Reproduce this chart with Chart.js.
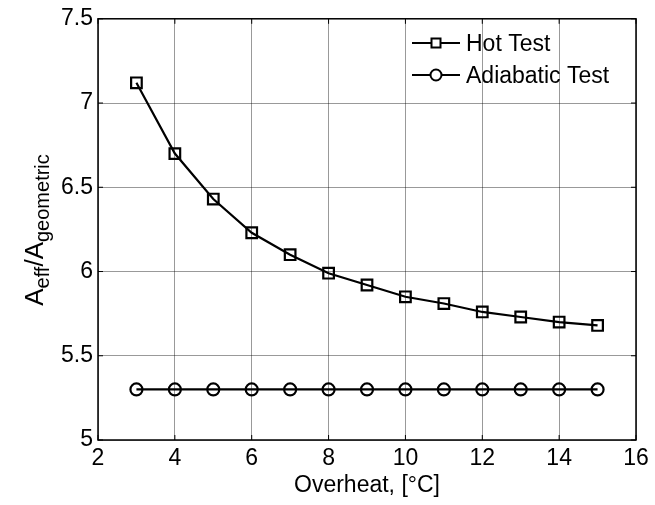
<!DOCTYPE html>
<html>
<head>
<meta charset="utf-8">
<script src="https://cdn.jsdelivr.net/npm/chart.js@4/dist/chart.umd.min.js"></script>
<style>
  html, body { margin: 0; padding: 0; background: #fff; }
  #wrap { width: 655px; height: 505px; }
</style>
</head>
<body>
<div id="wrap"><canvas id="chart" width="655" height="505"></canvas></div>
<script>
// data
var overheat = [3, 4, 5, 6, 7, 8, 9, 10, 11, 12, 13, 14, 15];
var hotTest = [7.12, 6.70, 6.43, 6.23, 6.10, 5.99, 5.92, 5.85, 5.81, 5.76, 5.73, 5.70, 5.68];
var adiabaticTest = [5.30, 5.30, 5.30, 5.30, 5.30, 5.30, 5.30, 5.30, 5.30, 5.30, 5.30, 5.30, 5.30];
var xTicks = [2, 4, 6, 8, 10, 12, 14, 16];
var yTicks = [5, 5.5, 6, 6.5, 7, 7.5];

var fontName = "'Liberation Sans', Arial, sans-serif";

function toPoints(xs, ys) {
    var pts = [];
    for (var i = 0; i < xs.length; i++) {
        pts.push({x: xs[i], y: ys[i]});
    }
    return pts;
}

// box, inward ticks, y title with subscripts and the legend
var matlabLook = {
    id: 'matlabLook',
    afterDraw: function(chart) {
        var ctx = chart.ctx;
        var a = chart.chartArea;
        var xs = chart.scales.x, ys = chart.scales.y;
        ctx.save();
        ctx.strokeStyle = '#000';
        ctx.lineWidth = 1.5;
        ctx.strokeRect(a.left, a.top, a.right - a.left, a.bottom - a.top);

        // inward tick marks on all four sides
        ctx.lineWidth = 1;
        var len = 5;
        xTicks.forEach(function(v) {
            var px = xs.getPixelForValue(v);
            ctx.beginPath();
            ctx.moveTo(px, a.bottom); ctx.lineTo(px, a.bottom - len);
            ctx.moveTo(px, a.top); ctx.lineTo(px, a.top + len);
            ctx.stroke();
        });
        yTicks.forEach(function(v) {
            var py = ys.getPixelForValue(v);
            ctx.beginPath();
            ctx.moveTo(a.left, py); ctx.lineTo(a.left + len, py);
            ctx.moveTo(a.right, py); ctx.lineTo(a.right - len, py);
            ctx.stroke();
        });

        // y axis title: A_eff / A_geometric
        var parts = [
            {t: 'A', sub: false}, {t: 'eff', sub: true},
            {t: '/A', sub: false}, {t: 'geometric', sub: true}
        ];
        var big = '26px ' + fontName, small = '20px ' + fontName;
        var total = 0;
        parts.forEach(function(p) {
            ctx.font = p.sub ? small : big;
            p.w = ctx.measureText(p.t).width;
            total += p.w;
        });
        ctx.translate(43, 230);
        ctx.rotate(-Math.PI / 2);
        ctx.fillStyle = '#000';
        ctx.textBaseline = 'alphabetic';
        var cx = -total / 2;
        parts.forEach(function(p) {
            ctx.font = p.sub ? small : big;
            ctx.fillText(p.t, cx, p.sub ? 6 : 0);
            cx += p.w;
        });
        ctx.restore();

        // legend
        ctx.save();
        var lx = 412, lineLen = 48;
        var rowsY = [43, 75];
        chart.data.datasets.forEach(function(ds, i) {
            var y = rowsY[i];
            ctx.strokeStyle = '#000';
            ctx.lineWidth = 2;
            ctx.beginPath();
            ctx.moveTo(lx, y); ctx.lineTo(lx + lineLen, y);
            ctx.stroke();
            var mx = lx + lineLen / 2;
            ctx.fillStyle = '#fff';
            if (ds.pointStyle === 'rect') {
                ctx.fillRect(mx - 4.5, y - 4.5, 9, 9);
                ctx.strokeRect(mx - 4.5, y - 4.5, 9, 9);
            } else {
                ctx.beginPath();
                ctx.arc(mx, y, 5.5, 0, Math.PI * 2);
                ctx.fill();
                ctx.stroke();
            }
            ctx.fillStyle = '#000';
            ctx.font = '23px ' + fontName;
            ctx.textBaseline = 'middle';
            ctx.fillText(ds.label, lx + lineLen + 6, y + 2);
        });
        ctx.restore();
    }
};

var ctx = document.getElementById('chart').getContext('2d');
var chart = new Chart(ctx, {
    type: 'line',
    data: {
        datasets: [{
            label: 'Hot Test',
            data: toPoints(overheat, hotTest),
            borderColor: '#000',
            borderWidth: 2.2,
            pointStyle: 'rect',
            pointRadius: 7.5,
            pointBorderWidth: 2.2,
            pointBorderColor: '#000',
            pointBackgroundColor: 'rgba(255,255,255,0)',
            tension: 0,
            fill: false
        }, {
            label: 'Adiabatic Test',
            data: toPoints(overheat, adiabaticTest),
            borderColor: '#000',
            borderWidth: 2.2,
            pointStyle: 'circle',
            pointRadius: 6,
            pointBorderWidth: 2.2,
            pointBorderColor: '#000',
            pointBackgroundColor: 'rgba(255,255,255,0)',
            tension: 0,
            fill: false
        }]
    },
    options: {
        responsive: false,
        animation: false,
        layout: { padding: { left: 0, top: 16, right: 19, bottom: 0 } },
        plugins: {
            legend: { display: false },
            tooltip: { enabled: false }
        },
        scales: {
            x: {
                type: 'linear',
                min: 2,
                max: 16,
                afterBuildTicks: function(scale) {
                    scale.ticks = xTicks.map(function(v) { return {value: v}; });
                },
                afterFit: function(scale) { scale.height = 65; },
                ticks: {
                    color: '#000',
                    font: { family: fontName, size: 23 },
                    padding: 5,
                    maxRotation: 0,
                    callback: function(v) { return String(v); }
                },
                grid: {
                    color: 'rgba(0,0,0,0.4)',
                    borderDash: [1, 2],
                    lineWidth: 1,
                    drawTicks: false
                },
                border: { display: false },
                title: {
                    display: true,
                    text: 'Overheat, [\u00B0C]',
                    color: '#000',
                    font: { family: fontName, size: 23 },
                    padding: { top: 0, bottom: 6 }
                }
            },
            y: {
                min: 5,
                max: 7.5,
                afterBuildTicks: function(scale) {
                    scale.ticks = yTicks.map(function(v) { return {value: v}; });
                },
                afterFit: function(scale) { scale.width = 98; },
                ticks: {
                    color: '#000',
                    font: { family: fontName, size: 23 },
                    padding: 5,
                    callback: function(v) { return String(v); }
                },
                grid: {
                    color: 'rgba(0,0,0,0.4)',
                    borderDash: [1, 2],
                    lineWidth: 1,
                    drawTicks: false
                },
                border: { display: false }
            }
        }
    },
    plugins: [matlabLook]
});
</script>
</body>
</html>
